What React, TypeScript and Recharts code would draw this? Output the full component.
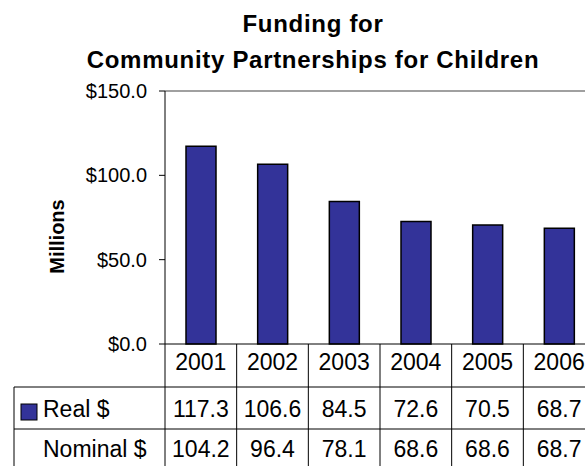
import { BarChart, Bar, XAxis, YAxis, ReferenceLine } from 'recharts';

const years = ['2001', '2002', '2003', '2004', '2005', '2006'];
const realValues = [117.3, 106.6, 84.5, 72.6, 70.5, 68.7];
const nominalValues = [104.2, 96.4, 78.1, 68.6, 68.6, 68.7];
const yTicks = [0, 50, 100, 150];

const data = years.map((year, i) => ({ year, real: realValues[i], nominal: nominalValues[i] }));

const W = 600;
const H = 466;
const margin = { top: 91, right: 5, left: 0, bottom: 0 };
const Y_AXIS_W = 165;
const band = (W - margin.left - Y_AXIS_W - margin.right) / years.length;
const FONT = '"Liberation Sans", Arial, sans-serif';
const BLUE = '#333399';

// x axis tick draws the data table column for its category
const TableTick = ({ x, y, payload }: any) => {
  const i = payload.index;
  const right = x + band / 2;
  const left = x - band / 2;
  return (
    <g fontFamily={FONT} fontSize={23} fill="#000">
      <text x={x} y={y + 26} textAnchor="middle">{payload.value}</text>
      <text x={x} y={y + 73} textAnchor="middle">{realValues[i].toFixed(1)}</text>
      <text x={x} y={y + 113} textAnchor="middle">{nominalValues[i].toFixed(1)}</text>
      <line x1={right} x2={right} y1={y} y2={H} stroke="#000" />
      {i === 0 && (
        <g>
          <line x1={left} x2={left} y1={y} y2={H} stroke="#000" />
          <line x1={14} x2={W} y1={y + 43} y2={y + 43} stroke="#000" />
          <line x1={14} x2={W} y1={y + 85} y2={y + 85} stroke="#000" />
          <line x1={14} x2={14} y1={y + 43} y2={H} stroke="#000" />
          <rect x={21} y={y + 60} width={16} height={16} fill={BLUE} stroke="#000" />
          <text x={43} y={y + 73}>Real $</text>
          <text x={43} y={y + 113}>Nominal $</text>
        </g>
      )}
    </g>
  );
};

const MillionsLabel = ({ viewBox }: any) => {
  const cx = viewBox.x + 63.5;
  const cy = viewBox.y + viewBox.height / 2 + 19;
  return (
    <text
      x={cx}
      y={cy}
      transform={`rotate(-90 ${cx} ${cy})`}
      textAnchor="middle"
      fontFamily={FONT}
      fontSize={20}
      fontWeight="bold"
      fill="#000"
    >
      Millions
    </text>
  );
};

export default function App() {
  return (
    <div
      style={{
        position: 'absolute',
        left: 0,
        top: 0,
        width: 585,
        height: 466,
        overflow: 'hidden',
        background: '#fff',
      }}
    >
      <div
        style={{
          position: 'absolute',
          left: 0,
          top: 6,
          width: 626,
          textAlign: 'center',
          fontFamily: FONT,
          fontSize: 24,
          fontWeight: 'bold',
          lineHeight: '36px',
          letterSpacing: 0.7,
          zIndex: 1,
        }}
      >
        Funding for
        <br />
        Community Partnerships for Children
      </div>
      <BarChart width={W} height={H} data={data} margin={margin}>
        <ReferenceLine y={150} stroke="#808080" strokeWidth={1.5} />
        <XAxis
          dataKey="year"
          interval={0}
          height={122}
          tickSize={0}
          tickMargin={0}
          tickLine={false}
          axisLine={{ stroke: '#000' }}
          tick={<TableTick />}
        />
        <YAxis
          width={Y_AXIS_W}
          domain={[0, 150]}
          ticks={yTicks}
          tickFormatter={(v: number) => `$${v.toFixed(1)}`}
          tickSize={6}
          tickMargin={12}
          tickLine={{ stroke: '#000' }}
          axisLine={{ stroke: '#000' }}
          tick={{ fill: '#000', fontSize: 20, fontFamily: FONT }}
          label={<MillionsLabel />}
        />
        <Bar
          dataKey="real"
          name="Real $"
          fill={BLUE}
          stroke="#000"
          strokeWidth={1.5}
          barSize={30}
          isAnimationActive={false}
        />
      </BarChart>
    </div>
  );
}
